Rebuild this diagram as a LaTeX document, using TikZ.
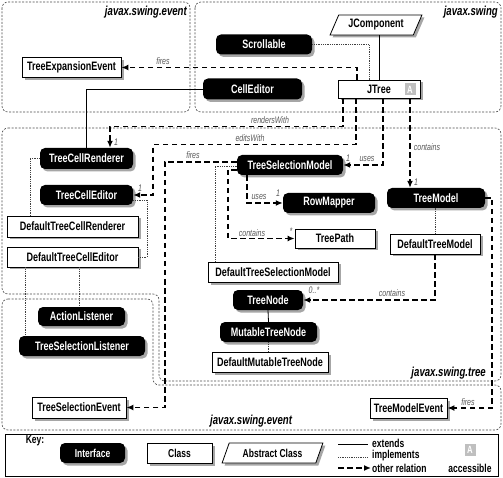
\documentclass[tikz,border=0pt]{standalone}
\usepackage{fontspec}
\setmainfont{Liberation Sans}[FakeStretch=0.74]
\usetikzlibrary{arrows.meta,shapes.geometric,shadows,calc}
\newcommand\fbx{\bfseries\fontsize{12.2pt}{13pt}\selectfont}
\newcommand\flb{\itshape\fontsize{9.5pt}{10pt}\selectfont}
\newcommand\fpk{\bfseries\itshape\fontsize{13pt}{14pt}\selectfont}
\newcommand\fkt{\bfseries\fontsize{11.5pt}{12pt}\selectfont}
\newcommand\fbd{\bfseries\fontsize{10.5pt}{10pt}\selectfont}
\tikzset{
 shad/.style={drop shadow={shadow xshift=2.5pt,shadow yshift=-2.5pt,fill=black!35,opacity=1}},
 iface/.style={shad, fill=black, rounded corners=5pt, text=white, font=\fbx, inner sep=0pt, minimum height=20pt},
 cls/.style={shad, draw=black, fill=white, line width=0.8pt, font=\fbx, inner sep=0pt, minimum height=20pt},
 absc/.style={shad, trapezium, trapezium left angle=60, trapezium right angle=120, trapezium stretches=true, draw=black, fill=white, line width=0.8pt, font=\fbx, inner sep=0pt, minimum height=20pt},
 pkg/.style={draw=black!70, line width=0.6pt, dash pattern=on 2pt off 1.5pt, rounded corners=6pt},
 rel/.style={draw=black, line width=1.5pt, dash pattern=on 5.5pt off 3.5pt, -{Latex[length=7pt,width=6pt]}},
 ext/.style={draw=black, line width=0.8pt},
 impl/.style={draw=black!75, line width=0.7pt, dash pattern=on 0.8pt off 1pt},
 lbl/.style={font=\flb, text=black!65, inner sep=0pt},
 pkglbl/.style={font=\fpk, inner sep=0pt},
 keytxt/.style={font=\fkt, inner sep=0pt},
 badge/.style={fill=black!25, text=white, font=\fbd, minimum width=11pt, minimum height=12pt, inner sep=0pt},
}
\begin{document}
\begin{tikzpicture}[x=1pt,y=-1pt]
\useasboundingbox (0,0) rectangle (503,478);
\fill[white] (0,0) rectangle (503,478);
% packages
\draw[pkg] (2,2) rectangle (190,112);
\draw[pkg] (195,2) rectangle (501,112);
\draw[pkg] (2,128) -- (501,128) -- (501,381) -- (159,381) -- (159,294) -- (2,294) -- cycle;
\draw[pkg] (2,299) -- (153,299) -- (153,385) -- (501,385) -- (501,430) -- (2,430) -- cycle;
\node[pkglbl, anchor=east] (p1) at (187,12) {javax.swing.event};
\node[pkglbl, anchor=east] (p2) at (498,12) {javax.swing};
\node[pkglbl, anchor=east] (p3) at (486,373) {javax.swing.tree};
\node[pkglbl, anchor=west] (p4) at (210,421) {javax.swing.event};
% nodes
\node[cls, minimum width=99pt] (tee) at (71.5,67.5) {TreeExpansionEvent};
\node[iface, minimum width=96pt] (scr) at (264,44.5) {Scrollable};
\node[absc, minimum width=92pt] (jc) at (376,25) {JComponent};
\node[iface, minimum width=99pt, minimum height=21pt] (ced) at (252.5,89) {CellEditor};
\node[cls, minimum width=82pt, minimum height=18pt] (jtree) at (379,89) {JTree};
\node[badge] (jtA) at (410,89.5) {A};
\node[iface, minimum width=93pt, minimum height=21pt] (tcr) at (86.5,158.5) {TreeCellRenderer};
\node[iface, minimum width=93pt] (tce) at (86.5,195) {TreeCellEditor};
\node[cls, minimum width=131pt, minimum height=21pt] (dtcr) at (72.5,226.5) {DefaultTreeCellRenderer};
\node[cls, minimum width=131pt] (dtce) at (72.5,257) {DefaultTreeCellEditor};
\node[iface, minimum width=106pt] (tsm) at (290,165) {TreeSelectionModel};
\node[iface, minimum width=92pt] (rm) at (329,203) {RowMapper};
\node[cls, minimum width=80pt, minimum height=19pt] (tp) at (335,238.5) {TreePath};
\node[cls, minimum width=130pt] (dtsm) at (273,272) {DefaultTreeSelectionModel};
\node[iface, minimum width=98pt] (tm) at (436,198) {TreeModel};
\node[cls, minimum width=90pt] (dtm) at (435,244) {DefaultTreeModel};
\node[iface, minimum width=70pt] (tn) at (268,300) {TreeNode};
\node[iface, minimum width=97pt] (mtn) at (268.5,332) {MutableTreeNode};
\node[cls, minimum width=116pt] (dmtn) at (270,362) {DefaultMutableTreeNode};
\node[iface, minimum width=87pt, minimum height=19pt] (al) at (81.5,316.5) {ActionListener};
\node[iface, minimum width=126pt] (tsl) at (82,346) {TreeSelectionListener};
\node[cls, minimum width=94pt, minimum height=21pt] (tse) at (79,407.5) {TreeSelectionEvent};
\node[cls, minimum width=77pt] (tme) at (408.5,408) {TreeModelEvent};
% connectors
\draw[rel] ([xshift=-22pt]jtree.north) |- (tee.east);
\node[lbl] (lf1) at (163,61) {fires};
\draw[ext] (jtree.north) -- (jtree.north |- jc.south);
\draw[impl] (scr.east) -| ([xshift=-10pt]jtree.north);
\draw[ext] (ced.west) -| (tcr.north);
\draw[rel] ([xshift=-36pt]jtree.south) -- ++(0,28) -| ([xshift=23.5pt]tcr.north);
\node[lbl] (lrw) at (270,120) {rendersWith};
\node[lbl] (lr1) at (116,142) {1};
\draw[rel] ([xshift=-23pt]jtree.south) -- ++(0,46) -| ([xshift=20pt]tce.east) -- (tce.east);
\node[lbl] (lew) at (250,138.5) {editsWith};
\node[lbl] (le1) at (140,188) {1};
\draw[rel] ([xshift=4pt]jtree.south) |- (tsm.east);
\node[lbl] (lu1) at (348,158) {1};
\node[lbl] (lus) at (367,158.5) {uses};
\draw[rel] ([xshift=31pt]jtree.south) -- ([xshift=-26pt]tm.north);
\node[lbl] (lct) at (427,147) {contains};
\node[lbl] (lc1) at (416,182) {1};
\draw[rel] ([yshift=3pt]tsm.west) -- ++(-72,0) |- (tse.east);
\node[lbl] (lf2) at (193,155) {fires};
\draw[rel] ([xshift=-43pt]tsm.south) |- (rm.west);
\node[lbl] (lus2) at (259,197) {uses};
\node[lbl] (lu2) at (278,193) {1};
\draw[rel] ([yshift=-5pt]tsm.west) -- ++(-9,0) |- (tp.west);
\node[lbl] (lct2) at (252,233) {contains};
\node[lbl] (lst) at (291,231) {*};
\draw[impl] ([xshift=-58pt]dtsm.north) |- ([yshift=-1pt]tsm.west);
\draw[impl] (dtm.north) -- (dtm.north |- tm.south);
\draw[rel] (dtm.south) |- (tn.east);
\node[lbl] (lct3) at (392,293) {contains};
\node[lbl] (lzs) at (314,290) {0..*};
\draw[rel] (tm.east) -- ++(7,0) |- (tme.east);
\node[lbl] (lf3) at (468,402) {fires};
\draw[ext] (tn.south) -- (mtn.north);
\draw[impl] (mtn.south) -- (mtn.south |- dmtn.north);
\draw[impl] (tcr.west) -| ([xshift=-42.5pt]dtcr.north);
\draw[impl] ([yshift=-5pt]tce.east) -- ++(14,0) |- (dtce.east);
\draw[impl] ([xshift=7pt]dtce.south) -- ([xshift=7pt]dtce.south |- al.north);
\draw[impl] ([xshift=-47.5pt]dtce.south) -- ([xshift=-47.5pt]dtce.south |- tsl.north);
% key
\draw[line width=0.8pt] (5,434) rectangle (498,476);
\node[keytxt] (kk) at (35,441) {Key:};
\node[iface, minimum width=65pt, font=\fkt] (kI) at (92.5,453) {Interface};
\node[cls, minimum width=65pt, font=\fkt] (kC) at (179.5,453) {Class};
\node[absc, minimum width=101pt, font=\fkt] (kAb) at (272.5,453) {Abstract Class};
\coordinate (ke1) at (338,444); \coordinate (ke2) at (368,444);
\coordinate (ki1) at (338,457); \coordinate (ki2) at (368,457);
\coordinate (ko1) at (338,468); \coordinate (ko2) at (371,468);
\draw[ext] (ke1) -- (ke2);
\draw[impl] (ki1) -- (ki2);
\draw[rel] (ko1) -- (ko2);
\node[keytxt, anchor=west] (kex) at (372,443) {extends};
\node[keytxt, anchor=west] (kim) at (372,456) {implements};
\node[keytxt, anchor=west] (kot) at (372,468) {other relation};
\node[badge] (kbA) at (470,450) {A};
\node[keytxt] (kac) at (470,468) {accessible};
\end{tikzpicture}
\end{document}
